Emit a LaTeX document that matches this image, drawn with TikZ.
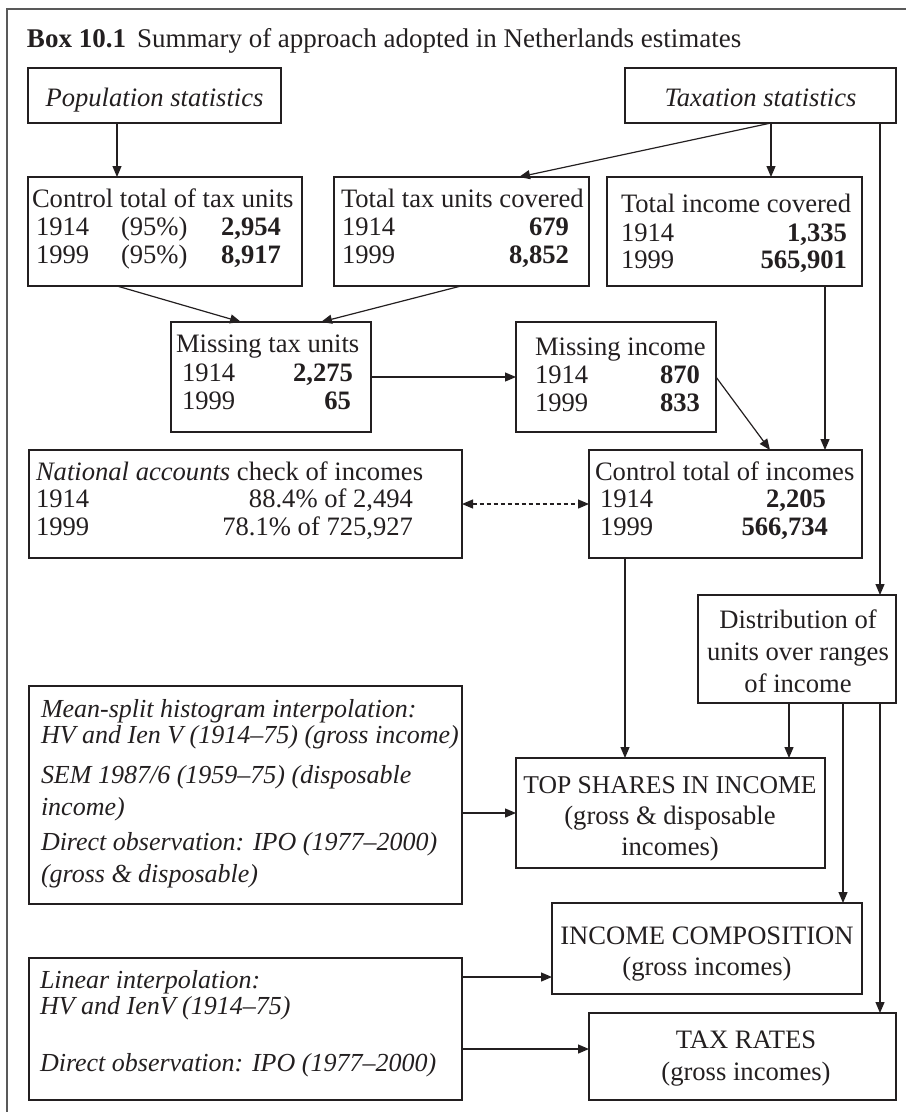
\documentclass[tikz,border=0pt]{standalone}
\usepackage{fontspec}
\setmainfont{Liberation Serif}
\usetikzlibrary{arrows.meta,calc}
\definecolor{ink}{HTML}{231F20}
\begin{document}
\begin{tikzpicture}[x=1pt,y=-1pt,
  font=\fontsize{26.6}{28}\selectfont,
  box/.style={draw=ink,line width=1.3pt,inner sep=0pt,outer sep=0pt,anchor=north west},
  txt/.style={inner sep=0pt,outer sep=0pt,text=ink},
  tl/.style={txt,anchor=base west},
  tr/.style={txt,anchor=base east},
  tc/.style={txt,anchor=base},
  arr/.style={draw=ink,line width=1.2pt,-{Triangle[length=11pt,width=9pt]}},
  darr/.style={draw=ink,line width=1.2pt,dash pattern=on 4pt off 3pt,{Triangle[length=11pt,width=9pt]}-{Triangle[length=11pt,width=9pt]}}
]
\useasboundingbox (0,0) rectangle (906,1112);
\draw[line width=2pt,gray!70!black] (7,1112) -- (7,9) -- (906,9);

% title
\begin{scope}[font=\fontsize{27}{28}\selectfont]
\node[tl] (t1) at (27,47) {\textbf{Box 10.1}};
\node[tl] (t2) at (137,47) {Summary of approach adopted in Netherlands estimates};
\end{scope}

% boxes
\node[box,minimum width=253,minimum height=55] (pop) at (28,68) {};
\node[box,minimum width=271,minimum height=55] (tax) at (625,68) {};
\node[box,minimum width=274,minimum height=109] (ctu) at (28,177) {};
\node[box,minimum width=255,minimum height=109] (ttu) at (334,177) {};
\node[box,minimum width=255,minimum height=109] (tic) at (607,177) {};
\node[box,minimum width=200,minimum height=110] (mtu) at (171,322) {};
\node[box,minimum width=200,minimum height=110] (mi) at (516,322) {};
\node[box,minimum width=433,minimum height=108] (nac) at (29,450) {};
\node[box,minimum width=273,minimum height=108] (cti) at (589,450) {};
\node[box,minimum width=198,minimum height=108] (dist) at (698,595) {};
\node[box,minimum width=433,minimum height=218] (ms) at (29,686) {};
\node[box,minimum width=309,minimum height=110] (top) at (516,758) {};
\node[box,minimum width=310,minimum height=91] (ic) at (552,903) {};
\node[box,minimum width=433,minimum height=142] (lin) at (29,958) {};
\node[box,minimum width=307,minimum height=87] (trb) at (589,1013) {};

% texts
\node[tc] (popt) at (154.5,106) {\itshape Population statistics};
\node[tc] (taxt) at (760.5,106) {\itshape Taxation statistics};

\node[tl] (c1) at (32,207) {Control total of tax units};
\node[tl] (c2) at (36,235) {1914};
\node[tl] (c3) at (121,235) {(95\%)};
\node[tr] (c4) at (281,235) {\textbf{2,954}};
\node[tl] (c5) at (36,263) {1999};
\node[tl] (c6) at (121,263) {(95\%)};
\node[tr] (c7) at (281,263) {\textbf{8,917}};

\node[tl] (u1) at (341,207) {Total tax units covered};
\node[tl] (u2) at (342,235) {1914};
\node[tr] (u3) at (569,235) {\textbf{679}};
\node[tl] (u4) at (342,263) {1999};
\node[tr] (u5) at (569,263) {\textbf{8,852}};

\node[tl] (i1) at (621,212) {Total income covered};
\node[tl] (i2) at (621,241) {1914};
\node[tr] (i3) at (847,241) {\textbf{1,335}};
\node[tl] (i4) at (621,268) {1999};
\node[tr] (i5) at (847,268) {\textbf{565,901}};

\node[tl] (m1) at (176,352) {Missing tax units};
\node[tl] (m2) at (182,381) {1914};
\node[tr] (m3) at (353,381) {\textbf{2,275}};
\node[tl] (m4) at (182,409) {1999};
\node[tr] (m5) at (351,409) {\textbf{65}};

\node[tl] (n1) at (535,355) {Missing income};
\node[tl] (n2) at (535,383) {1914};
\node[tr] (n3) at (700,383) {\textbf{870}};
\node[tl] (n4) at (535,411) {1999};
\node[tr] (n5) at (700,411) {\textbf{833}};

\node[tl] (a1) at (36,480) {\textit{National accounts} check of incomes};
\node[tl] (a2) at (36,507) {1914};
\node[tr] (a3) at (413,507) {88.4\% of 2,494};
\node[tl] (a4) at (36,535) {1999};
\node[tr] (a5) at (413,535) {78.1\% of 725,927};

\node[tl] (k1) at (595,480) {Control total of incomes};
\node[tl] (k2) at (600,507) {1914};
\node[tr] (k3) at (826,507) {\textbf{2,205}};
\node[tl] (k4) at (600,535) {1999};
\node[tr] (k5) at (828,535) {\textbf{566,734}};

\node[tc] (d1) at (798,628) {Distribution of};
\node[tc] (d2) at (798,660) {units over ranges};
\node[tc] (d3) at (798,692) {of income};

\node[tc,font=\fontsize{25.6}{28}\selectfont] (s1) at (670,793) {TOP SHARES IN INCOME};
\node[tc] (s2) at (670,824) {(gross \& disposable};
\node[tc] (s3) at (670,855) {incomes)};

\node[tc] (o1) at (707,944) {INCOME COMPOSITION};
\node[tc] (o2) at (707,975) {(gross incomes)};

\node[tc] (r1) at (746,1048) {TAX RATES};
\node[tc] (r2) at (746,1080) {(gross incomes)};

\begin{scope}[font=\fontsize{26}{28}\selectfont\itshape]
\node[tl] (h1) at (41,717) {Mean-split histogram interpolation:};
\node[tl] (h2) at (41,743) {HV and Ien V (1914–75) (gross income)};
\node[tl] (h3) at (41,783) {SEM 1987/6 (1959–75) (disposable};
\node[tl] (h4) at (41,815) {income)};
\node[tl] (h5) at (41,850) {Direct observation: IPO (1977–2000)};
\node[tl] (h6) at (41,882) {(gross \& disposable)};
\node[tl] (l1) at (40,988) {Linear interpolation:};
\node[tl] (l2) at (40,1014) {HV and IenV (1914–75)};
\node[tl] (l3) at (40,1071) {Direct observation: IPO (1977–2000)};
\end{scope}

% connectors
\coordinate (p9) at ($(ic.south west)+(0,-17)$);
\coordinate (p10) at ($(trb.north west)+(0,36)$);
\draw[arr] ($(pop.south west)+(89,0)$) coordinate (p1) -- (p1 |- ctu.north);
\draw[arr] ($(tax.south west)+(146,0)$) coordinate (p2) -- ($(ttu.north west)+(185,0)$);
\draw[arr] (p2) -- (p2 |- tic.north);
\draw[arr] ($(tax.south west)+(255,0)$) coordinate (p3) -- (p3 |- dist.north);
\draw[arr] ($(tic.south west)+(218,0)$) coordinate (p4) -- (p4 |- cti.north);
\draw[arr] ($(ctu.south west)+(89,0)$) -- ($(mtu.north west)+(70,0)$);
\draw[arr] ($(ttu.south west)+(127,0)$) -- ($(mtu.north west)+(150,0)$);
\draw[arr] (mtu.east) -- (mi.west);
\draw[arr] (mi.east) -- ($(cti.north west)+(181,0)$);
\draw[darr] (nac.east) -- (cti.west);
\draw[arr] ($(cti.south west)+(36,0)$) coordinate (p5) -- (p5 |- top.north);
\draw[arr] ($(dist.south west)+(91,0)$) coordinate (p6) -- (p6 |- top.north);
\draw[arr] ($(dist.south west)+(145,0)$) coordinate (p7) -- (p7 |- ic.north);
\draw[arr] ($(dist.south west)+(182,0)$) coordinate (p8) -- (p8 |- trb.north);
\draw[arr] (top.west -| ms.east) -- (top.west);
\draw[arr] (p9 -| lin.east) -- (p9);
\draw[arr] (p10 -| lin.east) -- (p10);
\end{tikzpicture}
\end{document}
